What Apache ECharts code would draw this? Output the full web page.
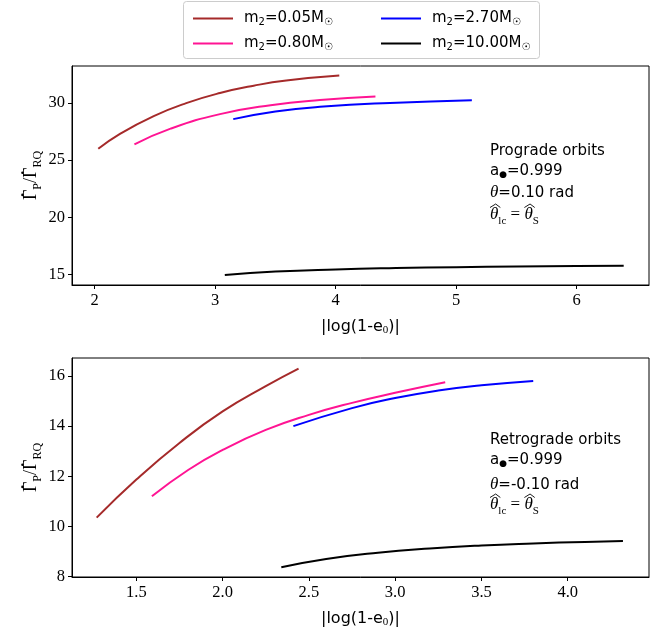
<!DOCTYPE html>
<html><head><meta charset="utf-8">
<script src="https://cdn.jsdelivr.net/npm/echarts@6/dist/echarts.min.js"></script>
<style>html,body{margin:0;padding:0;background:#fff}#c{width:666px;height:636px}</style>
</head><body><div id="c"></div>
<script>
// ---- data ----
const massLabels = ['0.05', '0.80', '2.70', '10.00'];
const seriesColors = ['#a52a2a', '#ff1493', '#0000ff', '#000000'];

// Prograde (top panel)
const proX_005 = [2.03, 2.21, 2.49, 2.76, 3.04, 3.32, 3.59, 4.03];
const proY_005 = [25.99, 27.30, 28.85, 29.98, 30.86, 31.50, 31.95, 32.38];
const proX_080 = [2.33, 2.63, 3.04, 3.46, 3.87, 4.33];
const proY_080 = [26.38, 27.75, 29.02, 29.80, 30.25, 30.55];
const proX_270 = [3.15, 3.50, 3.90, 4.45, 5.13];
const proY_270 = [28.58, 29.25, 29.68, 30.00, 30.24];
const proX_1000 = [3.08, 3.5, 4.0, 4.5, 5.0, 5.5, 6.0, 6.39];
const proY_1000 = [14.97, 15.27, 15.46, 15.58, 15.66, 15.71, 15.75, 15.78];

// Retrograde (bottom panel)
const retX_005 = [1.27, 1.5, 1.75, 2.0, 2.25, 2.44];
const retY_005 = [10.35, 11.87, 13.33, 14.59, 15.6, 16.3];
const retX_080 = [1.59, 1.8, 2.0, 2.25, 2.5, 2.75, 3.0, 3.29];
const retY_080 = [11.2, 12.25, 13.05, 13.85, 14.45, 14.93, 15.33, 15.75];
const retX_270 = [2.41, 2.75, 3.0, 3.25, 3.5, 3.8];
const retY_270 = [14.0, 14.72, 15.12, 15.42, 15.63, 15.8];
const retX_1000 = [2.34, 2.6, 2.9, 3.2, 3.5, 3.8, 4.1, 4.32];
const retY_1000 = [8.37, 8.70, 8.95, 9.12, 9.24, 9.32, 9.38, 9.42];

// tick labels
const proXTicks = [2, 3, 4, 5, 6];
const proYTicks = [15, 20, 25, 30];
const retXTicks = [1.5, 2.0, 2.5, 3.0, 3.5, 4.0];
const retYTicks = [8, 10, 12, 14, 16];

// ---- build ----
const zip = (xs, ys) => xs.map((x, i) => [x, ys[i]]);
const proData = [zip(proX_005, proY_005), zip(proX_080, proY_080), zip(proX_270, proY_270), zip(proX_1000, proY_1000)];
const retData = [zip(retX_005, retY_005), zip(retX_080, retY_080), zip(retX_270, retY_270), zip(retX_1000, retY_1000)];
const names = massLabels.map(m => 'm2=' + m);

const SERIF = 'Liberation Serif';
const SANS = 'DejaVu Sans';
const tickLabel = { fontFamily: SERIF, fontSize: 16.5, color: '#000', margin: 7 };

const mctx = document.createElement('canvas').getContext('2d');
function tw(t, font) { mctx.font = font; return mctx.measureText(t).width; }

function xAxis(gi, min, max, ticks, dec) {
  return {
    type: 'value', gridIndex: gi, min: min, max: max,
    axisLine: { show: true, onZero: false, lineStyle: { color: '#000', width: 1 } },
    axisTick: { show: true, inside: false, length: 4, customValues: ticks, lineStyle: { color: '#000' } },
    axisLabel: Object.assign({ customValues: ticks, formatter: v => v.toFixed(dec) }, tickLabel),
    splitLine: { show: false },
    name: '{a||log(1-e}{s|0}{a|)|}',
    nameLocation: 'middle', nameGap: 32,
    nameTextStyle: { rich: { a: { fontFamily: SANS, fontSize: 16, color: '#000' }, s: { fontFamily: SERIF, fontSize: 11, color: '#000', padding: [8, 0, 0, 0] } } }
  };
}
function yAxis(gi, min, max, ticks) {
  return {
    type: 'value', gridIndex: gi, min: min, max: max,
    axisLine: { show: true, onZero: false, lineStyle: { color: '#000', width: 1 } },
    axisTick: { show: true, inside: false, length: 4, customValues: ticks, lineStyle: { color: '#000' } },
    axisLabel: Object.assign({ customValues: ticks, formatter: v => String(v) }, tickLabel),
    splitLine: { show: false }
  };
}

// text row of pieces laid out left to right, bottoms aligned at yBottom (+dy)
function row(x0, yBottom, pieces) {
  let x = x0; const els = []; const pos = [];
  pieces.forEach(p => {
    const w = tw(p.t, p.font);
    els.push({ type: 'text', x: x, y: yBottom + (p.dy || 0), silent: true,
      style: { text: p.t, font: p.font, fill: '#000', align: 'left', verticalAlign: 'bottom' } });
    pos.push([x, w]); x += w;
  });
  return { els, pos, width: x - x0 };
}

// rotated y-axis label Γ̇_P / Γ̇_RQ
const fG = '18px "Liberation Serif"', fSub = '12px "Liberation Serif"';
function yLabel(cx, cy) {
  const pieces = [{ t: 'Γ', font: fG }, { t: 'P', font: fSub, dy: 3 }, { t: '/', font: fG }, { t: 'Γ', font: fG }, { t: 'RQ', font: fSub, dy: 3 }];
  let W = 0; pieces.forEach(p => W += tw(p.t, p.font));
  const r = row(-W / 2, 9.6, pieces);
  const dots = [0, 3].map(i => ({ type: 'circle', silent: true,
    shape: { cx: r.pos[i][0] + r.pos[i][1] / 2, cy: -8.5, r: 1.3 }, style: { fill: '#000' } }));
  return { type: 'group', x: cx, y: cy, rotation: Math.PI / 2, children: r.els.concat(dots) };
}

// annotation block
const fA = '15px "DejaVu Sans"', fT = 'italic 17px "Liberation Serif"', fE = '17px "Liberation Serif"', fS = '11px "Liberation Serif"';
function annot(x0, centers, title, theta) {
  const els = [];
  els.push({ type: 'text', x: x0, y: centers[0], silent: true, style: { text: title, font: fA, fill: '#000', verticalAlign: 'middle' } });
  els.push({ type: 'text', x: x0, y: centers[1], silent: true, style: { text: '{a|a}{b|●}{a|=0.999}', verticalAlign: 'middle',
    rich: { a: { fontFamily: SANS, fontSize: 15, color: '#000' }, b: { fontFamily: SANS, fontSize: 9, color: '#000', padding: [8, 0, 0, 0] } } } });
  els.push({ type: 'text', x: x0, y: centers[2], silent: true, style: { text: '{t|θ}{a|=' + theta + ' rad}', verticalAlign: 'middle',
    rich: { t: { fontFamily: SERIF, fontSize: 17, fontStyle: 'italic', color: '#000' }, a: { fontFamily: SANS, fontSize: 15, color: '#000' } } } });
  const yb = centers[3] + 8;
  const r = row(x0, yb, [{ t: 'θ', font: fT }, { t: 'lc', font: fS, dy: 4 }, { t: ' = ', font: fE }, { t: 'θ', font: fT }, { t: 'S', font: fS, dy: 4 }]);
  r.els.forEach(e => els.push(e));
  [0, 3].forEach(i => {
    const xs = r.pos[i][0], w = r.pos[i][1], ym = centers[3] - 11;
    els.push({ type: 'polyline', silent: true,
      shape: { points: [[xs, ym + 3.5], [xs + w / 2 + 1.5, ym], [xs + w + 2, ym + 3.5]] },
      style: { stroke: '#000', lineWidth: 0.9, fill: null } });
  });
  return els;
}

const series = [];
[proData, retData].forEach((set, gi) => {
  set.forEach((d, i) => {
    series.push({
      type: 'line', name: names[i], xAxisIndex: gi, yAxisIndex: gi, data: d,
      smooth: 0.5, showSymbol: false, symbol: 'none',
      lineStyle: { color: seriesColors[i], width: 2 }, itemStyle: { color: seriesColors[i] },
      silent: true, animation: false
    });
  });
});

const legendRich = {
  a: { fontFamily: SANS, fontSize: 15, color: '#000' },
  s: { fontFamily: SANS, fontSize: 10, color: '#000', padding: [7, 0, 0, 0] }
};
const legendFmt = n => '{a|m}{s|2}{a|=' + n.slice(3) + 'M}{s|☉}';
function legendCol(left, data) {
  return {
    data: data, orient: 'vertical', left: left, top: 6, itemGap: 9,
    icon: 'rect', itemWidth: 40, itemHeight: 2, itemStyle: { borderWidth: 0 },
    formatter: legendFmt,
    textStyle: { rich: legendRich, padding: [0, 0, 0, 6] },
    selectedMode: false
  };
}

const option = {
  backgroundColor: '#fff',
  animation: false,
  grid: [
    { left: 72, top: 66, width: 577, height: 219, show: true, borderColor: '#000', borderWidth: 1, backgroundColor: 'transparent' },
    { left: 72, top: 358, width: 577, height: 219, show: true, borderColor: '#000', borderWidth: 1, backgroundColor: 'transparent' }
  ],
  xAxis: [xAxis(0, 1.812, 6.60, proXTicks, 0), xAxis(1, 1.127, 4.471, retXTicks, 1)],
  yAxis: [yAxis(0, 14.10, 33.22, proYTicks), yAxis(1, 7.98, 16.72, retYTicks)],
  legend: [legendCol(188, [names[0], names[1]]), legendCol(376, [names[2], names[3]])],
  graphic: [
    { type: 'rect', left: 183, top: 1, silent: true, shape: { width: 356, height: 57, r: 3 }, style: { fill: '#fff', stroke: '#ccc', lineWidth: 1 }, z: -1 },
    yLabel(31, 175.5),
    yLabel(31, 467.5)
  ].concat(annot(490, [151, 171, 193, 215], 'Prograde orbits', '0.10'))
   .concat(annot(490, [440, 460, 485, 505], 'Retrograde orbits', '-0.10')),
  series: series
};
const chart = echarts.init(document.getElementById('c'), null, { renderer: 'canvas' });
chart.setOption(option);
</script></body></html>
